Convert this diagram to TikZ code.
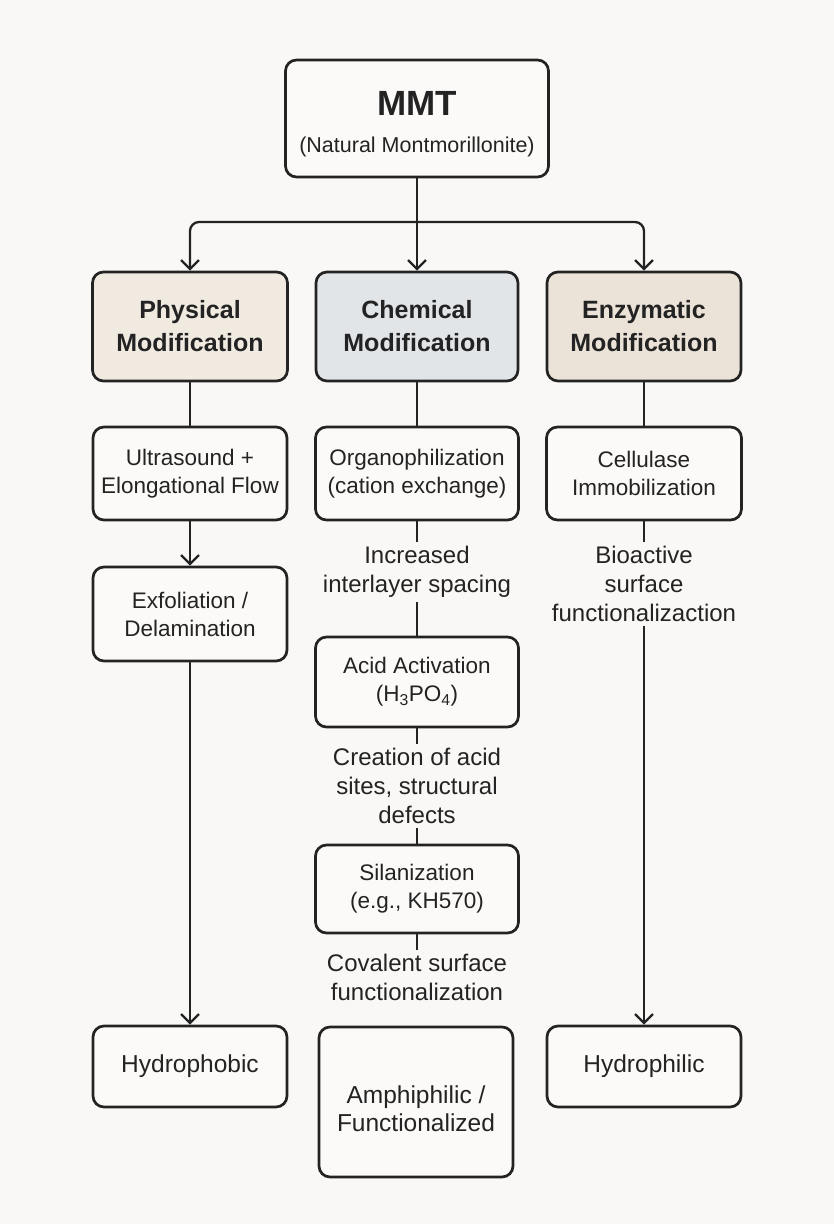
\documentclass[tikz,border=0pt]{standalone}
\usepackage{fontspec}
\setmainfont{Liberation Sans}
\usepackage{xcolor}
\usepackage{tikz}
\usetikzlibrary{positioning, arrows.meta}

\definecolor{paper}{HTML}{FAF8F6}
\definecolor{ink}{HTML}{232323}
\definecolor{physfill}{HTML}{F1EAE1}
\definecolor{chemfill}{HTML}{E1E5E8}
\definecolor{enzfill}{HTML}{EBE2D8}
\definecolor{stepfill}{HTML}{FBFAF8}

\tikzset{
    box/.style={draw=ink, line width=2.7pt, rounded corners=11pt, fill=stepfill,
        text=ink, align=center, inner sep=0pt},
    headbox/.style={box, minimum height=109pt, font=\fontsize{25}{33}\selectfont\bfseries},
    stepbox/.style={box, minimum height=93pt, font=\fontsize{22.5}{28}\selectfont},
    resultbox/.style={box, minimum width=194pt, font=\fontsize{24.5}{28}\selectfont},
    note/.style={text=ink, align=center, inner sep=4pt, font=\fontsize{24}{29}\selectfont},
    link/.style={draw=ink, line width=2.3pt},
}

\begin{document}
\begin{tikzpicture}[x=1pt, y=1pt, >={Straight Barb[length=9pt,width=18pt]}]
    % Nền và khung của hình
    \fill[paper] (0,0) rectangle (834,-1224);
    \useasboundingbox (0,0) rectangle (834,-1224);

    % Hộp gốc: khoáng sét ban đầu
    \node[box, minimum width=263pt, minimum height=117pt, font=\fontsize{21.5}{26}\selectfont] (mmt) at (417,-118.5)
        {{\fontsize{35}{37}\selectfont\bfseries\rule{0pt}{35pt}MMT}\\[11pt](Natural Montmorillonite)};
    \coordinate (split) at (417,-222);

    % Ba hướng biến tính
    \node[headbox, fill=physfill, minimum width=195pt] (phys) at (190,-326.5) {Physical\\Modification};
    \node[headbox, fill=chemfill, minimum width=202pt] (chem) at (417,-326.5) {Chemical\\Modification};
    \node[headbox, fill=enzfill, minimum width=194pt] (enz) at (644,-326.5) {Enzymatic\\Modification};

    % Cột vật lý
    \node[stepbox, minimum width=194pt] (ultra) at (190,-473.5) {Ultrasound +\\Elongational Flow};
    \node[stepbox, minimum width=194pt, minimum height=94pt] (exfo) at (190,-614) {Exfoliation /\\Delamination};
    \node[resultbox, minimum height=81pt] (hphob) at (190,-1066.5) {Hydrophobic};

    % Cột hóa học
    \node[stepbox, minimum width=203pt] (organo) at (417,-473.5) {Organophilization\\(cation exchange)};
    \node[note] (incr) at (417,-572) {Increased\\interlayer spacing};
    \node[stepbox, minimum width=203pt, minimum height=90pt] (acid) at (417,-682)
        {Acid Activation\\(H\textsubscript{3}PO\textsubscript{4})};
    \node[note] (creat) at (417,-786) {Creation of acid\\sites, structural\\defects};
    \node[stepbox, minimum width=203pt, minimum height=88pt] (sila) at (417,-889) {Silanization\\(e.g., KH570)};
    \node[note] (coval) at (417,-977) {Covalent surface\\functionalization};
    \node[resultbox, minimum height=150pt] (amphi) at (416,-1102)
        {\rule{0pt}{32pt}Amphiphilic /\\Functionalized};

    % Cột enzyme
    \node[stepbox, minimum width=195pt] (cell) at (644,-473.5) {Cellulase\\Immobilization};
    \node[note] (bio) at (644,-584) {Bioactive\\surface\\functionalizaction};
    \node[resultbox, minimum height=81pt] (hphil) at (644,-1066.5) {Hydrophilic};

    % Mũi tên tách nhánh
    \draw[link, ->] (mmt.south) -- (chem.north);
    \draw[link, ->, rounded corners=9pt] (split) -| (phys.north);
    \draw[link, ->, rounded corners=9pt] (split) -| (enz.north);

    % Các đoạn nối trong từng cột
    \draw[link] (phys.south) -- (ultra.north);
    \draw[link, ->] (ultra.south) -- (exfo.north);
    \draw[link, ->] (exfo.south) -- (hphob.north);
    \draw[link] (chem.south) -- (organo.north);
    \draw[link] (organo.south) -- (incr.north);
    \draw[link] (incr.south) -- (acid.north);
    \draw[link] (acid.south) -- (creat.north);
    \draw[link] (creat.south) -- (sila.north);
    \draw[link] (sila.south) -- (coval.north);
    \draw[link] (enz.south) -- (cell.north);
    \draw[link] (cell.south) -- (bio.north);
    \draw[link, ->] (bio.south) -- (hphil.north);
\end{tikzpicture}
\end{document}
